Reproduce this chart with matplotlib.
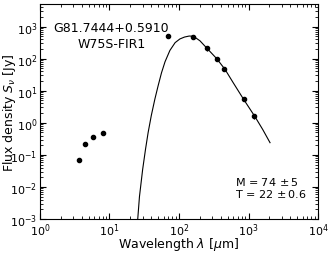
import matplotlib
matplotlib.use("Agg")
import matplotlib.pyplot as plt

# Spitzer IRAC points (no fit)
wl_ir = [3.6, 4.5, 5.8, 8.0]
flux_ir = [0.069, 0.22, 0.37, 0.475]

# far-IR / submm points used in the fit
wl_fir = [70, 160, 250, 350, 450, 850, 1200]
flux_fir = [514, 469, 207, 99, 47.5, 5.6, 1.6]
err_fir = [70, 65, 30, 14, 7, 0.8, 0.25]

# fitted greybody
wl_fit = [25.5, 27, 30, 33, 36, 40, 45, 50, 56, 63, 74, 88, 103, 120, 140,
          161, 200, 250, 350, 460, 600, 850, 1240, 1600, 2040]
flux_fit = [1e-3, 0.005, 0.035, 0.15, 0.5, 1.7, 5.5, 14, 36, 80, 180, 315,
            410, 470, 505, 500, 360, 215, 99, 46, 18, 5.4, 1.55, 0.62, 0.24]

fig = plt.figure(figsize=(3.33, 2.55), dpi=100)
ax = fig.add_axes([0.12, 0.137, 0.835, 0.843])

ax.plot(wl_fit, flux_fit, color='k', lw=0.8)
ax.plot(wl_ir, flux_ir, 'o', color='k', markersize=3)
ax.errorbar(wl_fir, flux_fir, yerr=err_fir, fmt='o', color='k',
            markersize=3, elinewidth=0.8, capsize=0)

ax.set_xscale('log')
ax.set_yscale('log')
ax.set_xlim(1, 1e4)
ax.set_ylim(1e-3, 5e3)

ax.tick_params(which='both', direction='in', top=True, right=True,
               labelsize=8, pad=2)
ax.tick_params(which='major', length=4)
ax.tick_params(which='minor', length=2)

ax.set_xlabel(r'Wavelength $\lambda$ [$\mu$m]', fontsize=9, labelpad=-2.5)
ax.set_ylabel(r'Flux density $S_\nu$ [Jy]', fontsize=9)
ax.yaxis.set_label_coords(-0.08, 0.5)

ax.text(0.257, 0.853, 'G81.7444+0.5910\nW75S-FIR1', transform=ax.transAxes,
        ha='center', va='center', fontsize=9, linespacing=1.3)
ax.text(0.70, 0.149, 'M = 74$\\,\\pm$5\nT = 22$\\,\\pm$0.6', transform=ax.transAxes,
        ha='left', va='center', fontsize=8, linespacing=1.05)

fig.savefig('out.png', dpi=100)
